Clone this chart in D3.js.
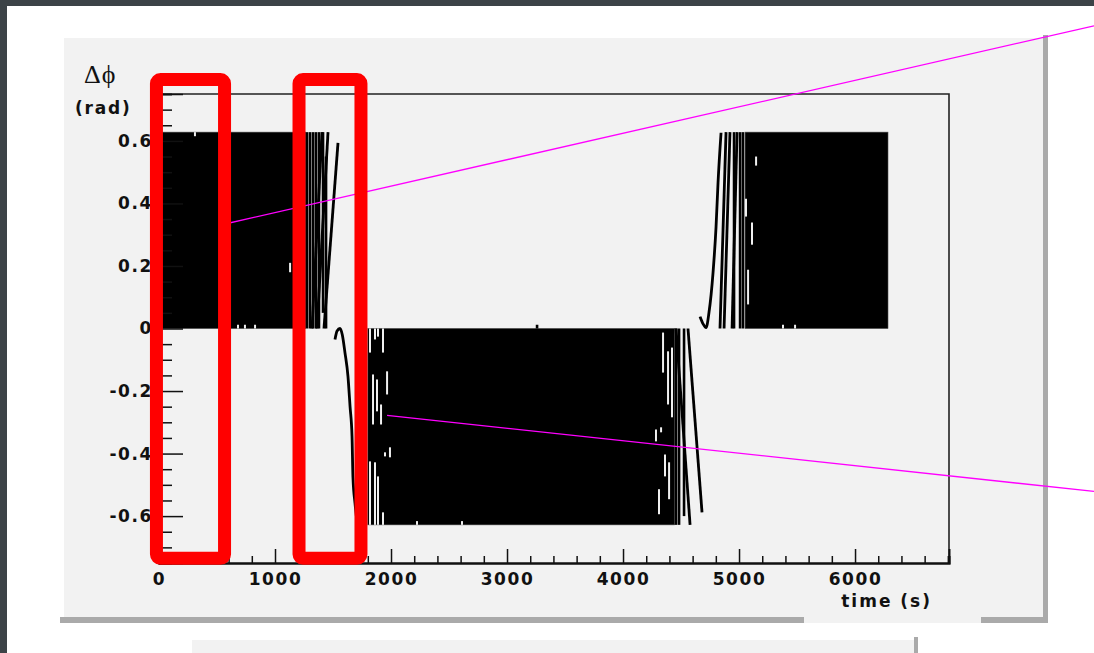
<!DOCTYPE html>
<html><head><meta charset="utf-8">
<script src="https://cdn.jsdelivr.net/npm/d3@7"></script>
<style>html,body{margin:0;padding:0;background:#fff;overflow:hidden}</style>
</head><body><svg id="svg" width="1094" height="653"></svg>
<script>
// phase difference vs time (time in s, phase in rad)
const PI5 = 0.628;
const xTickLabels = [0, 1000, 2000, 3000, 4000, 5000, 6000];
const yTickLabels = [-0.6, -0.4, -0.2, 0, 0.2, 0.4, 0.6];

// dense oscillation, drawn as solid bands
const blocks = [
  { t0: 0, t1: 1265, lo: 0, hi: PI5 },
  { t0: 1800, t1: 4445, lo: -PI5, hi: 0 },
  { t0: 5052, t1: 6284, lo: 0, hi: PI5 }
];
// white slits inside the bands: [t, y0, y1]
const gaps = [
  [310, 0.628, 0.615], [681, 0, 0.012], [741, 0, 0.012], [828, 0, 0.012], [1130, 0.21, 0.18],
  [1819, 0, -0.077], [1862, 0, -0.035], [1888, 0, -0.026], [1931, 0, -0.077],
  [1845, -0.147, -0.307], [1879, -0.163, -0.265], [1914, -0.243, -0.307], [1966, -0.137, -0.211],
  [1948, -0.396, -0.409], [1991, -0.38, -0.412],
  [1819, -0.425, -0.628], [1862, -0.428, -0.628], [1888, -0.473, -0.628], [1931, -0.588, -0.628],
  [2224, -0.628, -0.616], [2612, -0.628, -0.616],
  [4345, -0.013, -0.141], [4388, -0.073, -0.243], [4422, -0.061, -0.284], [4284, -0.323, -0.361],
  [4328, -0.316, -0.332], [4362, -0.403, -0.473], [4397, -0.428, -0.546], [4310, -0.514, -0.594],
  [5147, 0.55, 0.521], [5060, 0.415, 0.358], [5112, 0.339, 0.268], [5078, 0.188, 0.077],
  [5379, 0, 0.012], [5483, 0, 0.012]
];
// phase wraps in the slow parts: [t, y0, y1]
const wraps = [
  [1276, 0, PI5], [1302, 0, PI5], [1328, 0, PI5], [1353, 0, PI5], [1379, 0, PI5], [1414, 0.05, PI5], [1440, 0, 0.55],
  [4457, 0, -PI5], [4483, 0, -PI5], [4526, 0, -0.6],
  [4957, 0, PI5], [5009, 0, PI5], [5034, 0, PI5],
  [3259, 0, 0.012]
];
// ramps: [t0, y0, t1, y1]
const ramps = [
  [1319, 0, 1405, PI5], [1362, 0, 1457, PI5], [1422, 0, 1543, 0.594],
  [4457, 0, 4578, -PI5], [4560, 0, 4681, -0.588],
  [4836, 0, 4888, PI5], [4871, 0, 4922, PI5], [4940, 0, 4983, PI5]
];
const curveA = [[1517, -0.035], [1535, -0.008], [1560, 0.0], [1580, -0.02], [1603, -0.077], [1629, -0.153],
  [1647, -0.25], [1664, -0.345], [1672, -0.476], [1690, -0.56], [1710, -0.628]];
const curveB = [[4664, 0.038], [4690, 0.015], [4716, 0.003], [4741, 0.051], [4776, 0.179], [4802, 0.326],
  [4819, 0.466], [4845, 0.626]];

// annotations (data units)
const boxes = [{ t0: -22, t1: 565 }, { t0: 1207, t1: 1741 }];
const boxY = [0.796, -0.735];
const pointers = [[[578, 0.335], [8060, 0.968]], [[1966, -0.278], [8060, -0.521]]];

const svg = d3.select('#svg');
const W = 1094, H = 653;
const x = d3.scaleLinear().domain([0, 6810]).range([159, 949]);
const y = d3.scaleLinear().domain([-0.75, 0.75]).range([563, 94]);
const FONT = 'DejaVu Sans, Arial, sans-serif';

// page chrome
svg.append('rect').attr('width', W).attr('height', H).attr('fill', '#fff');
svg.append('rect').attr('width', W).attr('height', 6).attr('fill', '#3c4347');
svg.append('rect').attr('width', 7).attr('height', H).attr('fill', '#3c4347');
svg.append('rect').attr('x', 1043).attr('y', 35).attr('width', 5).attr('height', 588).attr('fill', '#aaa');
svg.append('rect').attr('x', 60).attr('y', 617).attr('width', 744).attr('height', 6).attr('fill', '#aaa');
svg.append('rect').attr('x', 981).attr('y', 617).attr('width', 67).attr('height', 6).attr('fill', '#aaa');
svg.append('rect').attr('x', 64).attr('y', 38).attr('width', 979).attr('height', 579).attr('fill', '#f2f2f2');
svg.append('rect').attr('x', 804).attr('y', 617).attr('width', 177).attr('height', 6).attr('fill', '#f2f2f2');
svg.append('rect').attr('x', 192).attr('y', 640).attr('width', 724).attr('height', 13).attr('fill', '#f2f2f2');
svg.append('rect').attr('x', 914).attr('y', 637).attr('width', 4).attr('height', 16).attr('fill', '#aaa');

const plot = svg.append('g');

// bands
plot.selectAll('rect.blk').data(blocks).enter().append('rect').attr('class', 'blk')
  .attr('x', d => x(d.t0)).attr('y', d => y(d.hi))
  .attr('width', d => x(d.t1) - x(d.t0)).attr('height', d => y(d.lo) - y(d.hi))
  .attr('fill', '#000').attr('stroke', '#444').attr('stroke-width', 0.6);

plot.selectAll('line.gap').data(gaps).enter().append('line').attr('class', 'gap')
  .attr('x1', d => x(d[0])).attr('x2', d => x(d[0])).attr('y1', d => y(d[1])).attr('y2', d => y(d[2]))
  .attr('stroke', '#f0f0f0').attr('stroke-width', 2);

plot.selectAll('line.wrap').data(wraps).enter().append('line').attr('class', 'wrap')
  .attr('x1', d => x(d[0])).attr('x2', d => x(d[0])).attr('y1', d => y(d[1])).attr('y2', d => y(d[2]))
  .attr('stroke', '#000').attr('stroke-width', 2.6);

plot.selectAll('line.ramp').data(ramps).enter().append('line').attr('class', 'ramp')
  .attr('x1', d => x(d[0])).attr('y1', d => y(d[1])).attr('x2', d => x(d[2])).attr('y2', d => y(d[3]))
  .attr('stroke', '#000').attr('stroke-width', 2.8);

const line = d3.line().x(d => x(d[0])).y(d => y(d[1])).curve(d3.curveMonotoneX);
[curveA, curveB].forEach(c => plot.append('path').attr('d', line(c)).attr('fill', 'none')
  .attr('stroke', '#000').attr('stroke-width', 2.8).attr('stroke-linejoin', 'round'));

// frame
svg.append('path').attr('d', `M${x(0)},${y(0.75)}H${x(6810)}V${y(-0.75)}`)
  .attr('fill', 'none').attr('stroke', '#222').attr('stroke-width', 1.6);

// x axis, ROOT-style ticks pointing inward
const xMinor = d3.range(0, 6801, 200).filter(v => v % 1000 !== 0);
const xAxisMinor = d3.axisBottom(x).tickValues(xMinor).tickSize(-7).tickFormat('');
const xAxis = d3.axisBottom(x).tickValues(xTickLabels).tickSize(-14).tickPadding(10).tickFormat(d3.format('d'));
const gxm = svg.append('g').attr('transform', `translate(0,${y(-0.75)})`).call(xAxisMinor);
const gx = svg.append('g').attr('transform', `translate(0,${y(-0.75)})`).call(xAxis);
[gx, gxm].forEach(g => { g.select('.domain').attr('stroke', '#111').attr('stroke-width', 2); g.selectAll('line').attr('stroke', '#111').attr('stroke-width', 1.5); });
gx.selectAll('text').attr('font-family', FONT).attr('font-weight', 'bold').attr('font-size', 17)
  .attr('letter-spacing', 1.6).attr('fill', '#111');

const yMinor = d3.range(-0.75, 0.751, 0.05).filter(v => Math.abs(v * 5 - Math.round(v * 5)) > 1e-6);
const yAxisMinor = d3.axisLeft(y).tickValues(yMinor).tickSize(-13).tickFormat('');
const yAxis = d3.axisLeft(y).tickValues(yTickLabels).tickSize(-24).tickPadding(6)
  .tickFormat(d => d === 0 ? '0' : d.toFixed(1));
const gym = svg.append('g').attr('transform', `translate(${x(0)},0)`).call(yAxisMinor);
const gy = svg.append('g').attr('transform', `translate(${x(0)},0)`).call(yAxis);
[gy, gym].forEach(g => { g.select('.domain').attr('stroke', '#111').attr('stroke-width', 1.6); g.selectAll('line').attr('stroke', '#111').attr('stroke-width', 1.5); });
gy.selectAll('text').attr('font-family', FONT).attr('font-weight', 'bold').attr('font-size', 17)
  .attr('letter-spacing', 1.6).attr('fill', '#111');

// titles
svg.append('text').attr('x', 84).attr('y', 83).text('Δϕ')
  .attr('font-family', 'Liberation Serif, serif').attr('font-size', 26).attr('letter-spacing', 1).attr('fill', '#111');
svg.append('text').attr('x', 75).attr('y', 114).text('(rad)')
  .attr('font-family', FONT).attr('font-weight', 'bold').attr('font-size', 17).attr('letter-spacing', 1.8).attr('fill', '#111');
svg.append('text').attr('x', 932).attr('y', 607).attr('text-anchor', 'end').text('time (s)')
  .attr('font-family', FONT).attr('font-weight', 'bold').attr('font-size', 17).attr('letter-spacing', 2).attr('fill', '#111');

// annotation overlays
svg.selectAll('line.ptr').data(pointers).enter().append('line').attr('class', 'ptr')
  .attr('x1', d => x(d[0][0])).attr('y1', d => y(d[0][1])).attr('x2', d => x(d[1][0])).attr('y2', d => y(d[1][1]))
  .attr('stroke', '#ff00ff').attr('stroke-width', 1.3);
svg.selectAll('rect.box').data(boxes).enter().append('rect').attr('class', 'box')
  .attr('x', d => x(d.t0)).attr('y', y(boxY[0]))
  .attr('width', d => x(d.t1) - x(d.t0)).attr('height', y(boxY[1]) - y(boxY[0]))
  .attr('rx', 4).attr('fill', 'none').attr('stroke', '#ff0000').attr('stroke-width', 13).attr('stroke-linejoin', 'round');
</script></body></html>
